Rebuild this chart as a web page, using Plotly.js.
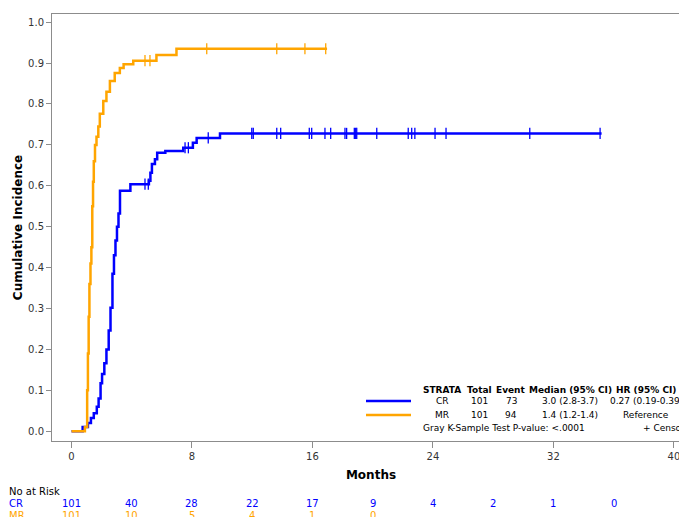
<!DOCTYPE html>
<html>
<head>
<meta charset="utf-8">
<script src="https://cdn.plot.ly/plotly-3.0.1.min.js"></script>
<style>
html, body { margin: 0; padding: 0; overflow: hidden; background: #fff; }
#chart { width: 720px; height: 517px; }
</style>
</head>
<body>
<div id="chart"></div>
<script>
// ---- Data ----
const crTime = [0, 0.74, 1.09, 1.29, 1.48, 1.68, 1.8, 1.93, 2.03, 2.18, 2.32, 2.47, 2.59, 2.72, 2.82, 2.92, 3.02, 3.12, 3.22, 3.91, 5.14, 5.24, 5.34, 5.54, 5.69, 6.23, 7.42, 8.06, 8.31, 9.86, 35.2];
const crCif  = [0, 0.01, 0.02, 0.032, 0.044, 0.06, 0.08, 0.117, 0.14, 0.166, 0.2, 0.246, 0.302, 0.385, 0.43, 0.466, 0.5, 0.532, 0.588, 0.604, 0.612, 0.632, 0.653, 0.665, 0.681, 0.685, 0.693, 0.705, 0.717, 0.728, 0.728];
const mrTime = [0, 0.89, 1.04, 1.09, 1.14, 1.19, 1.26, 1.32, 1.38, 1.43, 1.48, 1.56, 1.66, 1.78, 1.88, 2.11, 2.32, 2.55, 2.87, 3.21, 3.46, 4.1, 5.64, 6.97, 16.97];
const mrCif  = [0, 0.01, 0.10, 0.19, 0.28, 0.36, 0.41, 0.45, 0.55, 0.61, 0.66, 0.70, 0.72, 0.745, 0.776, 0.807, 0.83, 0.856, 0.876, 0.888, 0.897, 0.906, 0.92, 0.935, 0.935];
const crCensor = [4.88, 5.1, 7.54, 7.76, 9.08, 11.97, 12.07, 13.63, 13.89, 15.79, 15.95, 16.83, 17.21, 18.16, 18.27, 18.78, 18.87, 18.94, 20.27, 22.36, 22.59, 22.8, 24.14, 24.87, 30.43, 35.1];
const mrCensor = [4.88, 5.21, 8.98, 13.63, 15.5, 16.88];

const riskTimes = [0, 4, 8, 12, 16, 20, 24, 28, 32, 36];
const crRisk = [101, 40, 28, 22, 17, 9, 4, 2, 1, 0];
const mrRisk = [101, 10, 5, 4, 1, 0];

const xTicks = [0, 8, 16, 24, 32, 40];
const yTicks = [0, 0.1, 0.2, 0.3, 0.4, 0.5, 0.6, 0.7, 0.8, 0.9, 1.0];

const legendHeader = ["STRATA", "Total", "Event", "Median (95% CI)", "HR (95% CI)"];
const legendCR = ["CR", "101", "73", "3.0 (2.8-3.7)", "0.27 (0.19-0.39)"];
const legendMR = ["MR", "101", "94", "1.4 (1.2-1.4)", "Reference"];
const pvalText = "Gray K-Sample Test P-value: <.0001";
const censText = "+ Censored";

const BLUE = "#0000ff";
const ORANGE = "#ffa500";

// value of step function at time t
function stepAt(times, vals, t) {
  let v = vals[0];
  for (let i = 0; i < times.length; i++) { if (times[i] <= t) v = vals[i]; }
  return v;
}

// ---- Layout geometry (pixels) ----
const W = 720, H = 517;
const mL = 52, mT = 14, mR = 30, mB = 76;
const pw = W - mL - mR, ph = H - mT - mB;
const px = x => (x - mL) / pw;          // page px -> paper x
const py = y => (H - mB - y) / ph;      // page px -> paper y

const font = "DejaVu Sans, Arial, sans-serif";

const traces = [
  { x: crTime, y: crCif, mode: "lines", line: { shape: "hv", color: BLUE, width: 2.5 }, hoverinfo: "skip" },
  { x: mrTime, y: mrCif, mode: "lines", line: { shape: "hv", color: ORANGE, width: 2.5 }, hoverinfo: "skip" },
  { x: crCensor, y: crCensor.map(t => stepAt(crTime, crCif, t)), mode: "markers",
    marker: { symbol: "line-ns-open", size: 8, color: BLUE, line: { color: BLUE, width: 1.3 } }, hoverinfo: "skip" },
  { x: mrCensor, y: mrCensor.map(t => stepAt(mrTime, mrCif, t)), mode: "markers",
    marker: { symbol: "line-ns-open", size: 8, color: ORANGE, line: { color: ORANGE, width: 1.3 } }, hoverinfo: "skip" }
];

const annotations = [];
const shapes = [];

// legend block
const colX = [442, 480, 511, 570, 646];
const legY = [390, 401, 415];
function addRow(texts, y, bold) {
  texts.forEach((t, i) => {
    annotations.push({ xref: "paper", yref: "paper", x: px(colX[i]), y: py(y), text: bold ? "<b>" + t + "</b>" : t,
      showarrow: false, xanchor: "center", yanchor: "middle", font: { family: font, size: 9, color: "#000" } });
  });
}
addRow(legendHeader, legY[0], true);
addRow(legendCR, legY[1], false);
addRow(legendMR, legY[2], false);
annotations.push({ xref: "paper", yref: "paper", x: px(421), y: py(428), text: pvalText, showarrow: false,
  xanchor: "left", yanchor: "middle", font: { family: font, size: 9, color: "#000" } });
annotations.push({ xref: "paper", yref: "paper", x: px(641), y: py(428), text: censText, showarrow: false,
  xanchor: "left", yanchor: "middle", font: { family: font, size: 9, color: "#000" } });
shapes.push({ type: "line", xref: "paper", yref: "paper", x0: px(366), x1: px(411), y0: py(401), y1: py(401), line: { color: BLUE, width: 2.5 } });
shapes.push({ type: "line", xref: "paper", yref: "paper", x0: px(366), x1: px(411), y0: py(415), y1: py(415), line: { color: ORANGE, width: 2.5 } });

// risk table
annotations.push({ xref: "paper", yref: "paper", x: px(7), y: py(492), text: "No at Risk", showarrow: false,
  xanchor: "left", yanchor: "middle", font: { family: font, size: 10, color: "#000" } });
annotations.push({ xref: "paper", yref: "paper", x: px(7), y: py(503), text: "CR", showarrow: false,
  xanchor: "left", yanchor: "middle", font: { family: font, size: 10, color: BLUE } });
annotations.push({ xref: "paper", yref: "paper", x: px(7), y: py(515), text: "MR", showarrow: false,
  xanchor: "left", yanchor: "middle", font: { family: font, size: 10, color: ORANGE } });
crRisk.forEach((n, i) => annotations.push({ xref: "x", yref: "paper", x: riskTimes[i], y: py(503), text: String(n),
  showarrow: false, xanchor: "center", yanchor: "middle", font: { family: font, size: 10, color: BLUE } }));
mrRisk.forEach((n, i) => annotations.push({ xref: "x", yref: "paper", x: riskTimes[i], y: py(515), text: String(n),
  showarrow: false, xanchor: "center", yanchor: "middle", font: { family: font, size: 10, color: ORANGE } }));

const layout = {
  width: W, height: H,
  margin: { l: mL, r: mR, t: mT, b: mB, pad: 0 },
  paper_bgcolor: "#fff", plot_bgcolor: "#fff",
  showlegend: false,
  xaxis: {
    range: [-1.295, 41.07], tickvals: xTicks, ticktext: xTicks.map(String),
    ticks: "outside", ticklen: 6, tickcolor: "#8c8c8c", tickwidth: 1,
    showline: true, linecolor: "#8c8c8c", linewidth: 1, mirror: true,
    showgrid: false, zeroline: false,
    tickfont: { family: font, size: 10, color: "#333" },
    title: { text: "<b>Months</b>", font: { family: font, size: 12, color: "#000" }, standoff: 9 }
  },
  yaxis: {
    range: [-0.024, 1.02], tickvals: yTicks, ticktext: yTicks.map(v => v.toFixed(1)),
    ticks: "outside", ticklen: 5, tickcolor: "#8c8c8c", tickwidth: 1,
    showline: true, linecolor: "#8c8c8c", linewidth: 1, mirror: true,
    showgrid: false, zeroline: false,
    tickfont: { family: font, size: 10, color: "#333" },
    title: { text: "<b>Cumulative Incidence</b>", font: { family: font, size: 12, color: "#000" }, standoff: 2 }
  },
  annotations: annotations,
  shapes: shapes
};

Plotly.newPlot("chart", traces, layout, { staticPlot: true, displayModeBar: false });
</script>
</body>
</html>
